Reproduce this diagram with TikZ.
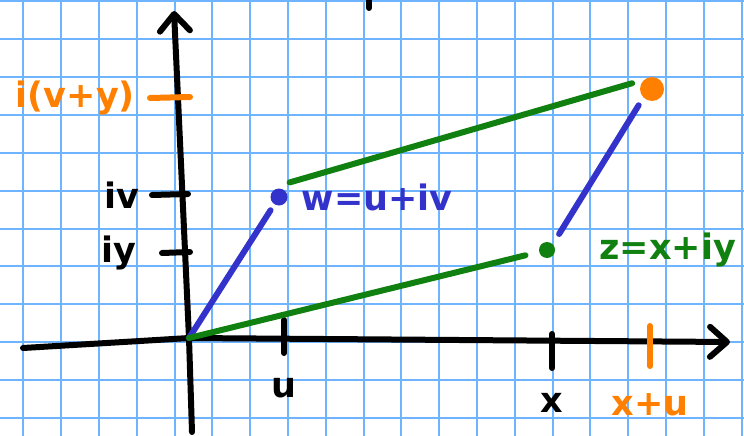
\documentclass[tikz,border=0pt]{standalone}
\usepackage{fontspec}
\setmainfont{DejaVu Sans}
\usetikzlibrary{arrows.meta, positioning, calc}
\definecolor{gridblue}{RGB}{110,180,255}
\definecolor{penblue}{RGB}{51,51,204}
\definecolor{pengreen}{RGB}{16,128,16}
\definecolor{penorange}{RGB}{255,128,0}

\begin{document}
\begin{tikzpicture}[x=1pt, y=-1pt,
  axis/.style={line width=6pt, line cap=round, line join=round, black},
  vecb/.style={line width=6pt, line cap=round, penblue},
  vecg/.style={line width=6pt, line cap=round, pengreen},
  dot/.style={circle, inner sep=0pt, minimum size=#1}, dot/.default=14pt,
  hand/.style={inner sep=0pt, font=\fontsize{35}{35}\selectfont\bfseries},
  tip/.style={-{Straight Barb[length=17pt, width=30pt, round]}}]
% Paper and grid
\fill[white] (0,0) rectangle (744,436);
\useasboundingbox (0,0) rectangle (744,436);
\foreach \i in {0,...,19}
  \draw[gridblue, line width=2pt] ({23.3+37.8*\i},0) -- ({23.3+37.8*\i},436);
\foreach \j in {0,...,11}
  \draw[gridblue, line width=2pt] (0,{1.5+37.85*\j}) -- (744,{1.5+37.85*\j});

% Axes
\coordinate (O) at (189,338);
\coordinate (xl) at (23,348);
\coordinate (xr) at (730,342);
\coordinate (yb) at (192,432);
\coordinate (yt) at (174,11);
\draw[axis, tip] (xl) -- (140,341) -- (O) -- (xr);
\draw[axis, tip] (yb) -- (O) -- (yt);
\draw[axis] (369,1) -- (369,8);

% Ticks
\draw[axis] (152,195) coordinate (tiv) -- (188,194);
\draw[axis] (162,253) coordinate (tiy) -- (190,252);
\draw[axis, penorange] (150,98) coordinate (tivy) -- (190,97);
\draw[axis] (284,320) -- (284,353) coordinate (tu);
\draw[axis] (552,334) -- (552,368) coordinate (tx);
\draw[axis, penorange] (650,326) -- (650,366) coordinate (txu);

\node[hand, left=12pt of tiv] (liv) {iv};
\node[hand, left=25pt of tiy] (liy) {iy};
\node[hand, penorange, left=15pt of tivy] (livy) {i(v+y)};
\node[hand, below=25pt of tu] (lu) {u};
\node[hand, below=25pt of tx] (lx) {x};
\node[hand, penorange, below=27pt of txu] (lxu) {x+u};

% Points
\node[dot=17pt, fill=penblue] (w) at (279,197) {};
\node[dot=16pt, fill=pengreen] (z) at (547,250) {};
\node[dot=24pt, fill=penorange] (s) at (652,89) {};

% Parallelogram
\draw[vecb, shorten >=7pt] (O) -- (w);
\draw[vecg, shorten >=14pt] (O) -- (z);
\draw[vecb, shorten <=12pt, shorten >=9pt] (z.north east) -- (s.south west);
\draw[vecg, shorten <=2pt, shorten >=8pt] ([yshift=14pt]w.east) -- ([yshift=8pt]s.west);

\node[hand, penblue, right=14pt of w] (lw) {w=u+iv};
\node[hand, pengreen, right=44pt of z] (lz) {z=x+iy};
\end{tikzpicture}
\end{document}
